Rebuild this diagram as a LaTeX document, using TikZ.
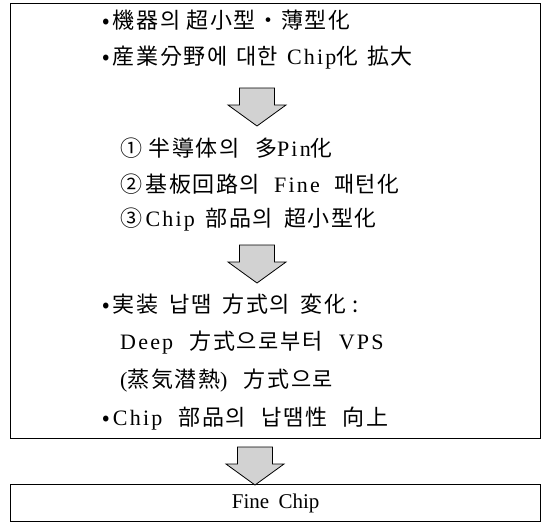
\documentclass[tikz,border=0pt]{standalone}
\usepackage{fontspec}
\setmainfont{Liberation Serif}[LetterSpace=10]
\newfontfamily\plainserif{Liberation Serif}
\newfontfamily\cjk{Noto Sans CJK KR}[LetterSpace=7]
\newcommand{\K}[1]{{\cjk #1}}
\newcommand{\gp}[1]{\hspace{#1em}}
\begin{document}
\begin{tikzpicture}[x=1pt,y=-1pt,
  txt/.style={anchor=west,inner sep=0pt,font=\fontsize{22}{26}\selectfont},
  frame/.style={draw=black,line width=1.3pt},
  bigarrow/.style={draw=black,line width=0.8pt,fill=gray!35,line join=miter},
]
\useasboundingbox (0,0) rectangle (543,528);
% outer boxes
\node[frame,minimum width=530pt,minimum height=435pt,inner sep=0pt,anchor=north west] (big) at (10,3) {};
\node[frame,minimum width=530pt,minimum height=37pt,inner sep=0pt,anchor=north west] (fine) at (10,484) {};
% text
\node[txt] (l1) at (102,20) {\K{•\gp{0.15}機器의\gp{0.3}超小型・薄型化}};
\node[txt] (l2) at (102,58) {\K{•\gp{0.15}産業分野에\gp{0.4}대한}\gp{0.4}Chip\K{化}\gp{0.4}\K{拡大}};
\node[txt] (l3) at (120,148) {\K{①\gp{0.3}半導体의\gp{0.7}多}Pin\K{化}};
\node[txt] (l4) at (120,184) {\K{②\gp{0.15}基板回路의}\gp{0.65}Fine\gp{0.65}\K{패턴化}};
\node[txt] (l5) at (120,220) {\K{③}\gp{0.15}Chip\gp{0.5}\K{部品의\gp{0.5}超小型化}};
\node[txt] (l6) at (102,304) {\K{•\gp{0.15}実装\gp{0.5}납땜\gp{0.5}方式의\gp{0.5}変化\gp{0.3}:}};
\node[txt] (l7) at (120,343) {Deep\gp{0.75}\K{方式으로부터}\gp{0.75}VPS};
\node[txt] (l8) at (120,381) {(\K{蒸気潜熱})\gp{0.75}\K{方式으로}};
\node[txt] (l9) at (102,419) {\K{•}\gp{0.15}Chip\gp{0.75}\K{部品의\gp{0.7}납땜性\gp{0.7}向上}};
\node[txt,anchor=center,font=\fontsize{21}{24}\plainserif] (l10) at (fine.center) {Fine\gp{0.45}Chip};
% arrows
\coordinate (a1) at (257,88);
\coordinate (a2) at (257,245);
\coordinate (a3) at (255,447);
\foreach \c in {a1,a2,a3}{
  \draw[bigarrow] ([xshift=-17.5pt]\c) -- ([xshift=17.5pt]\c) -- ([xshift=17.5pt,yshift=-17pt]\c)
    -- ([xshift=29pt,yshift=-17pt]\c) -- ([yshift=-38pt]\c) -- ([xshift=-29pt,yshift=-17pt]\c)
    -- ([xshift=-17.5pt,yshift=-17pt]\c) -- cycle;
}
\end{tikzpicture}
\end{document}
